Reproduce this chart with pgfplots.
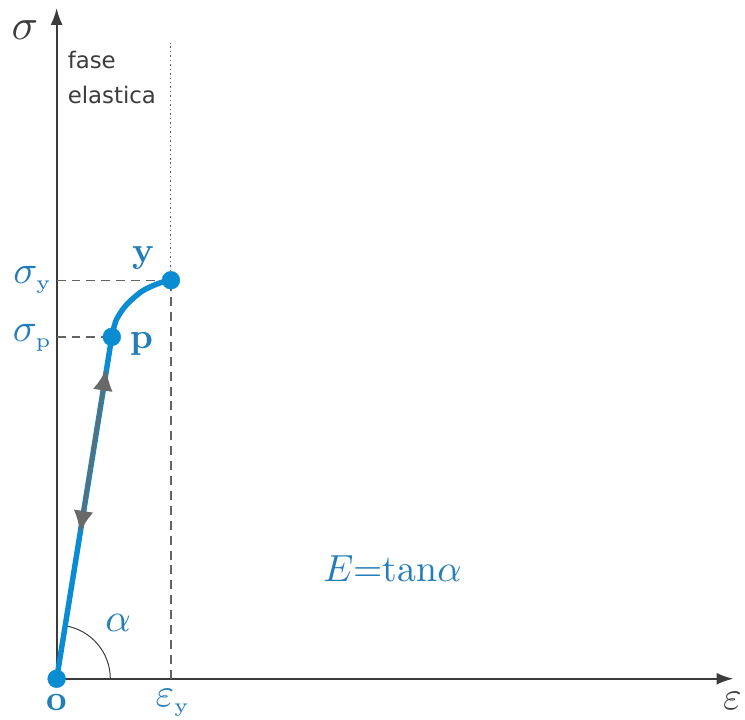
\documentclass[border=0pt]{standalone}
\usepackage{fontspec}
\usepackage{graphicx}
\usepackage{pgfplots}
\pgfplotsset{compat=1.18}
\usetikzlibrary{arrows.meta}
\newfontfamily\notefont{DejaVu Sans}

\definecolor{curveblue}{RGB}{10,140,210}
\definecolor{labelblue}{RGB}{35,125,185}
\definecolor{axisgray}{RGB}{60,60,60}
\definecolor{arrowgray}{RGB}{105,105,105}

% enlarge a symbol by a given factor of the 10pt size
\newcommand{\enl}[2]{\scalebox{#1}{#2}}
\newcommand{\sub}[1]{_{\scriptscriptstyle\mathrm{#1}}}

\begin{document}
\begin{tikzpicture}
\begin{axis}[
  x=1pt, y=1pt,
  xmin=0, xmax=681, ymin=0, ymax=675,
  axis lines=left,
  axis line style={axisgray, line width=2pt, -{Latex[length=17pt,width=12pt]}},
  xtick=\empty, ytick=\empty,
  clip=false,
]
% page frame
\path (axis cs:-57,-41) rectangle (axis cs:688,683);

% guide lines to the yield and proportionality points
\addplot[axisgray!80, line width=1.3pt, dash pattern=on 9pt off 6pt] coordinates {(0,401) (115,401)};
\addplot[axisgray!80, line width=1.3pt, dash pattern=on 9pt off 6pt] coordinates {(0,344) (55.5,344)};
\addplot[axisgray!80, line width=1.3pt, dash pattern=on 9pt off 6pt] coordinates {(115,0) (115,401)};
\addplot[axisgray!80, line width=1.1pt, dash pattern=on 1.5pt off 3pt] coordinates {(115,401) (115,640)};

% angle arc
\draw[axisgray, line width=1pt] (axis cs:54,0) arc[start angle=0, end angle=80.8, radius=54pt];

% linear elastic branch and curved branch up to yielding
\addplot[curveblue, line width=5.5pt] coordinates {(0,0) (55.5,344)};
\addplot[curveblue, line width=5.5pt, smooth] coordinates {(55.5,344) (60,361) (70,376) (86,390) (103,398) (115,401)};

% loading / unloading arrows
\addplot[arrowgray, line width=3pt, {Latex[length=22pt,width=20pt]}-{Latex[length=22pt,width=20pt]}] coordinates {(23.5,147) (50,312)};

% characteristic points
\addplot[only marks, mark=*, mark size=9pt, curveblue] coordinates {(0,0) (55.5,344) (115,401)};

% labels
\node[axisgray] at (axis cs:-32,653) {\enl{4.4}{$\sigma$}};
\node[axisgray, anchor=south west, inner sep=0pt] at (axis cs:11,578) {\enl{2.3}{\notefont elastica}};
\node[axisgray, anchor=south west, inner sep=0pt] at (axis cs:11,614) {\enl{2.3}{\notefont fase}};
\node[labelblue] at (axis cs:-24,401) {\enl{4}{$\sigma\sub{y}$}};
\node[labelblue] at (axis cs:-24,343) {\enl{4}{$\sigma\sub{p}$}};
\node[labelblue] at (axis cs:87,423) {\enl{3.6}{\bfseries y}};
\node[labelblue] at (axis cs:86,337) {\enl{3.6}{\bfseries p}};
\node[labelblue] at (axis cs:0,-24) {\enl{3.6}{\bfseries o}};
\node[labelblue] at (axis cs:117,-24) {\enl{4}{$\varepsilon\sub{y}$}};
\node[axisgray] at (axis cs:680,-22) {\enl{4}{$\varepsilon$}};
\node[labelblue] at (axis cs:62,56) {\enl{4}{$\alpha$}};
\node[labelblue] at (axis cs:338,111) {\enl{3.8}{$E$=tan$\alpha$}};
\end{axis}
\end{tikzpicture}
\end{document}
